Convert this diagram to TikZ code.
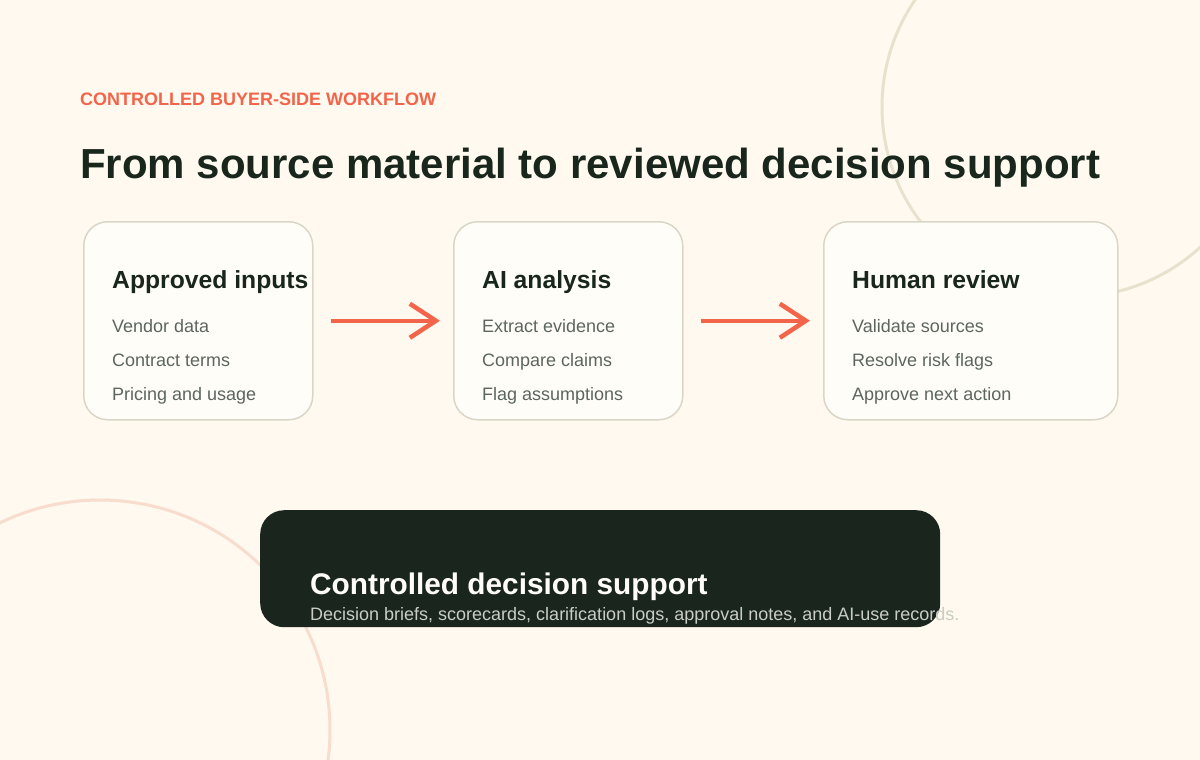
\documentclass[tikz,border=0pt]{standalone}
\usepackage{fontspec}
\setmainfont{Liberation Sans}
\usetikzlibrary{arrows.meta}
\definecolor{bg}{HTML}{FFF9EF}
\definecolor{cardfill}{HTML}{FFFDF7}
\definecolor{cardline}{HTML}{DAD6C7}
\definecolor{accent}{HTML}{F2654A}
\definecolor{ink}{HTML}{18261C}
\definecolor{muted}{HTML}{5C665F}
\definecolor{ringA}{HTML}{E7E1CE}
\definecolor{ringB}{HTML}{F8DCCD}
\definecolor{darkbox}{HTML}{1A261D}
\definecolor{subtle}{HTML}{C9CDC5}
\tikzset{
  card/.style={draw=cardline, fill=cardfill, line width=1.5pt, rounded corners=24pt,
    rectangle, anchor=north west, inner sep=0pt, minimum height=198pt},
  cardtitle/.style={anchor=base west, inner sep=0pt, text=ink,
    font=\fontsize{24.7}{29}\selectfont\bfseries},
  carditem/.style={anchor=base west, inner sep=0pt, text=muted,
    font=\fontsize{18}{22}\selectfont},
  flow/.style={draw=accent, line width=4.5pt,
    -{Straight Barb[length=26pt,width=34pt,line width=4.5pt]}},
  txt/.style={anchor=base west, inner sep=0pt},
}
\begin{document}
\begin{tikzpicture}[x=1pt,y=-1pt]
\fill[bg] (0,0) rectangle (1200,760);
\useasboundingbox (0,0) rectangle (1200,760);
\begin{scope}
\clip (0,0) rectangle (1200,760);
\draw[ringA, line width=3pt] (1072,107) circle[radius=190pt];
\draw[ringB, line width=3pt] (100,730) circle[radius=230pt];
\end{scope}

\node[txt, text=accent, font=\fontsize{18}{21}\selectfont\bfseries] (kicker) at (80,105) {CONTROLLED BUYER-SIDE WORKFLOW};
\node[txt, text=ink, font=\fontsize{42}{48}\selectfont\bfseries] (headline) at (80,178) {From source material to reviewed decision support};

\node[card, minimum width=229pt] (b1) at (83,221) {};
\node[card, minimum width=229pt] (b2) at (453,221) {};
\node[card, minimum width=294pt] (b3) at (823,221) {};

\node[cardtitle] (t1) at (112,288) {Approved inputs};
\node[carditem] (i11) at (112,332) {Vendor data};
\node[carditem] (i12) at (112,366) {Contract terms};
\node[carditem] (i13) at (112,400) {Pricing and usage};

\node[cardtitle] (t2) at (482,288) {AI analysis};
\node[carditem] (i21) at (482,332) {Extract evidence};
\node[carditem] (i22) at (482,366) {Compare claims};
\node[carditem] (i23) at (482,400) {Flag assumptions};

\node[cardtitle] (t3) at (852,288) {Human review};
\node[carditem] (i31) at (852,332) {Validate sources};
\node[carditem] (i32) at (852,366) {Resolve risk flags};
\node[carditem] (i33) at (852,400) {Approve next action};

\draw[flow, shorten <=17pt, shorten >=13pt] (b1.east) -- (b2.west);
\draw[flow, shorten <=17pt, shorten >=13pt] (b2.east) -- (b3.west);

\node[rectangle, fill=darkbox, rounded corners=24pt, anchor=north west, inner sep=0pt,
  minimum width=680pt, minimum height=117pt] (out) at (260,510) {};
\node[txt, text=cardfill, font=\fontsize{29.8}{34}\selectfont\bfseries] (outtitle) at (310,594) {Controlled decision support};
\node[txt, text=subtle, font=\fontsize{18}{21}\selectfont] (outsub) at (310,620) {Decision briefs, scorecards, clarification logs, approval notes, and AI-use records.};
\end{tikzpicture}
\end{document}
